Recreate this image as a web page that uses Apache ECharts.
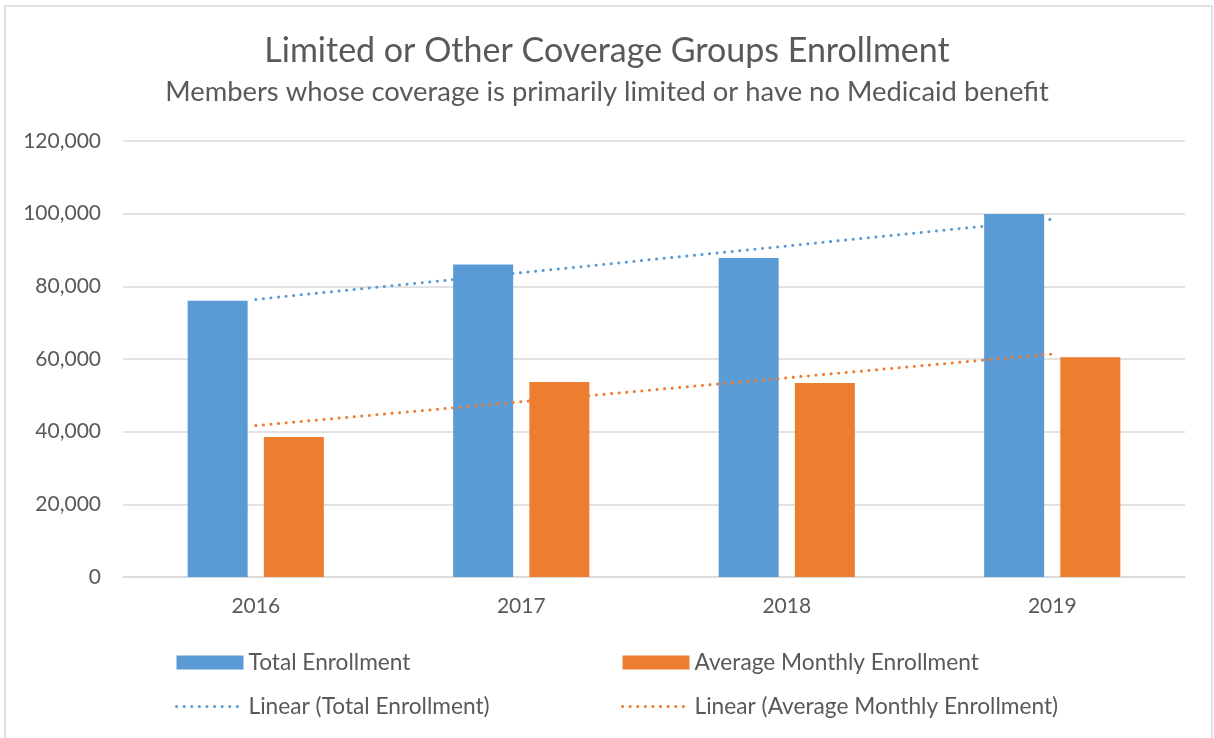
<!DOCTYPE html>
<html><head><meta charset="utf-8">
<script src="https://cdn.jsdelivr.net/npm/echarts@6/dist/echarts.min.js"></script>
<style>html,body{margin:0;padding:0;background:#fff}#c{width:1214px;height:738px}</style>
</head><body><div id="c"></div>
<script>
const categories = ['2016', '2017', '2018', '2019'];
const totalEnrollment = [76000, 86000, 87800, 99900];
const avgMonthlyEnrollment = [38500, 53700, 53400, 60500];
const yTicks = [0, 20000, 40000, 60000, 80000, 100000, 120000];

function linearTrend(vals) {
  const n = vals.length;
  const mx = (n - 1) / 2;
  const my = vals.reduce((a, b) => a + b, 0) / n;
  let num = 0, den = 0;
  vals.forEach((v, i) => { num += (i - mx) * (v - my); den += (i - mx) * (i - mx); });
  const s = num / den;
  return vals.map((_, i) => my + s * (i - mx));
}

const blue = '#5B9BD5', orange = '#ED7D31', txt = '#595959';
const font = "Lato, 'Open Sans', sans-serif";
const dotted = { width: 3, type: [0.1, 7.5], cap: 'round' };
function lineLegendItem(name, color) {
  return { name: name, itemStyle: { opacity: 0, color: 'rgba(0,0,0,0)', borderWidth: 0 },
    lineStyle: Object.assign({ color: color }, dotted) };
}
const chart = echarts.init(document.getElementById('c'));
chart.setOption({
  animation: false,
  textStyle: { fontFamily: font },
  graphic: [{ type: 'rect', shape: { x: 5, y: 6, width: 1207, height: 740 }, style: { fill: 'none', stroke: '#D9D9D9', lineWidth: 1.5 } }],
  title: [
    { text: 'Limited or Other Coverage Groups Enrollment', left: 'center', top: 29, textStyle: { fontSize: 34, fontWeight: 'normal', color: txt, fontFamily: font } },
    { text: 'Members whose coverage is primarily limited or have no Medicaid benefit', left: 'center', top: 74, textStyle: { fontSize: 27.4, fontWeight: 'normal', color: txt, fontFamily: font } }
  ],
  legend: [
    { data: [{ name: 'Total Enrollment', icon: 'rect' }, lineLegendItem('Linear (Total Enrollment)', blue)], orient: 'vertical', left: 170, top: 646, itemWidth: 67, itemHeight: 14, itemGap: 21, itemTextGap: 9,
      textStyle: { fontSize: 22.7, color: txt, fontFamily: font } },
    { data: [{ name: 'Average Monthly Enrollment', icon: 'rect' }, lineLegendItem('Linear (Average Monthly Enrollment)', orange)], orient: 'vertical', left: 616, top: 646, itemWidth: 67, itemHeight: 14, itemGap: 21, itemTextGap: 9,
      textStyle: { fontSize: 22.7, color: txt, fontFamily: font } }
  ],
  grid: { left: 123, right: 29, top: 141, bottom: 161, containLabel: false },
  xAxis: {
    type: 'category', data: categories,
    axisLine: { lineStyle: { color: '#D9D9D9', width: 1.5 } }, axisTick: { show: false },
    axisLabel: { fontSize: 21, color: txt, margin: 19, fontFamily: font }
  },
  yAxis: {
    type: 'value', min: yTicks[0], max: yTicks[yTicks.length - 1], interval: 20000,
    axisLine: { show: false }, axisTick: { show: false },
    splitLine: { lineStyle: { color: '#D9D9D9', width: 1.5 } },
    axisLabel: { fontSize: 21, color: txt, margin: 22, fontFamily: font,
      formatter: v => v.toLocaleString('en-US') }
  },
  series: [
    { name: 'Total Enrollment', type: 'bar', data: totalEnrollment, barWidth: 60, barGap: '27%', itemStyle: { color: blue } },
    { name: 'Average Monthly Enrollment', type: 'bar', data: avgMonthlyEnrollment, barWidth: 60, itemStyle: { color: orange } },
    { name: 'Linear (Total Enrollment)', type: 'line', data: linearTrend(totalEnrollment), symbol: 'none', z: 5,
      itemStyle: { color: blue }, lineStyle: Object.assign({ color: blue }, dotted) },
    { name: 'Linear (Average Monthly Enrollment)', type: 'line', data: linearTrend(avgMonthlyEnrollment), symbol: 'none', z: 5,
      itemStyle: { color: orange }, lineStyle: Object.assign({ color: orange }, dotted) }
  ]
});
</script></body></html>
